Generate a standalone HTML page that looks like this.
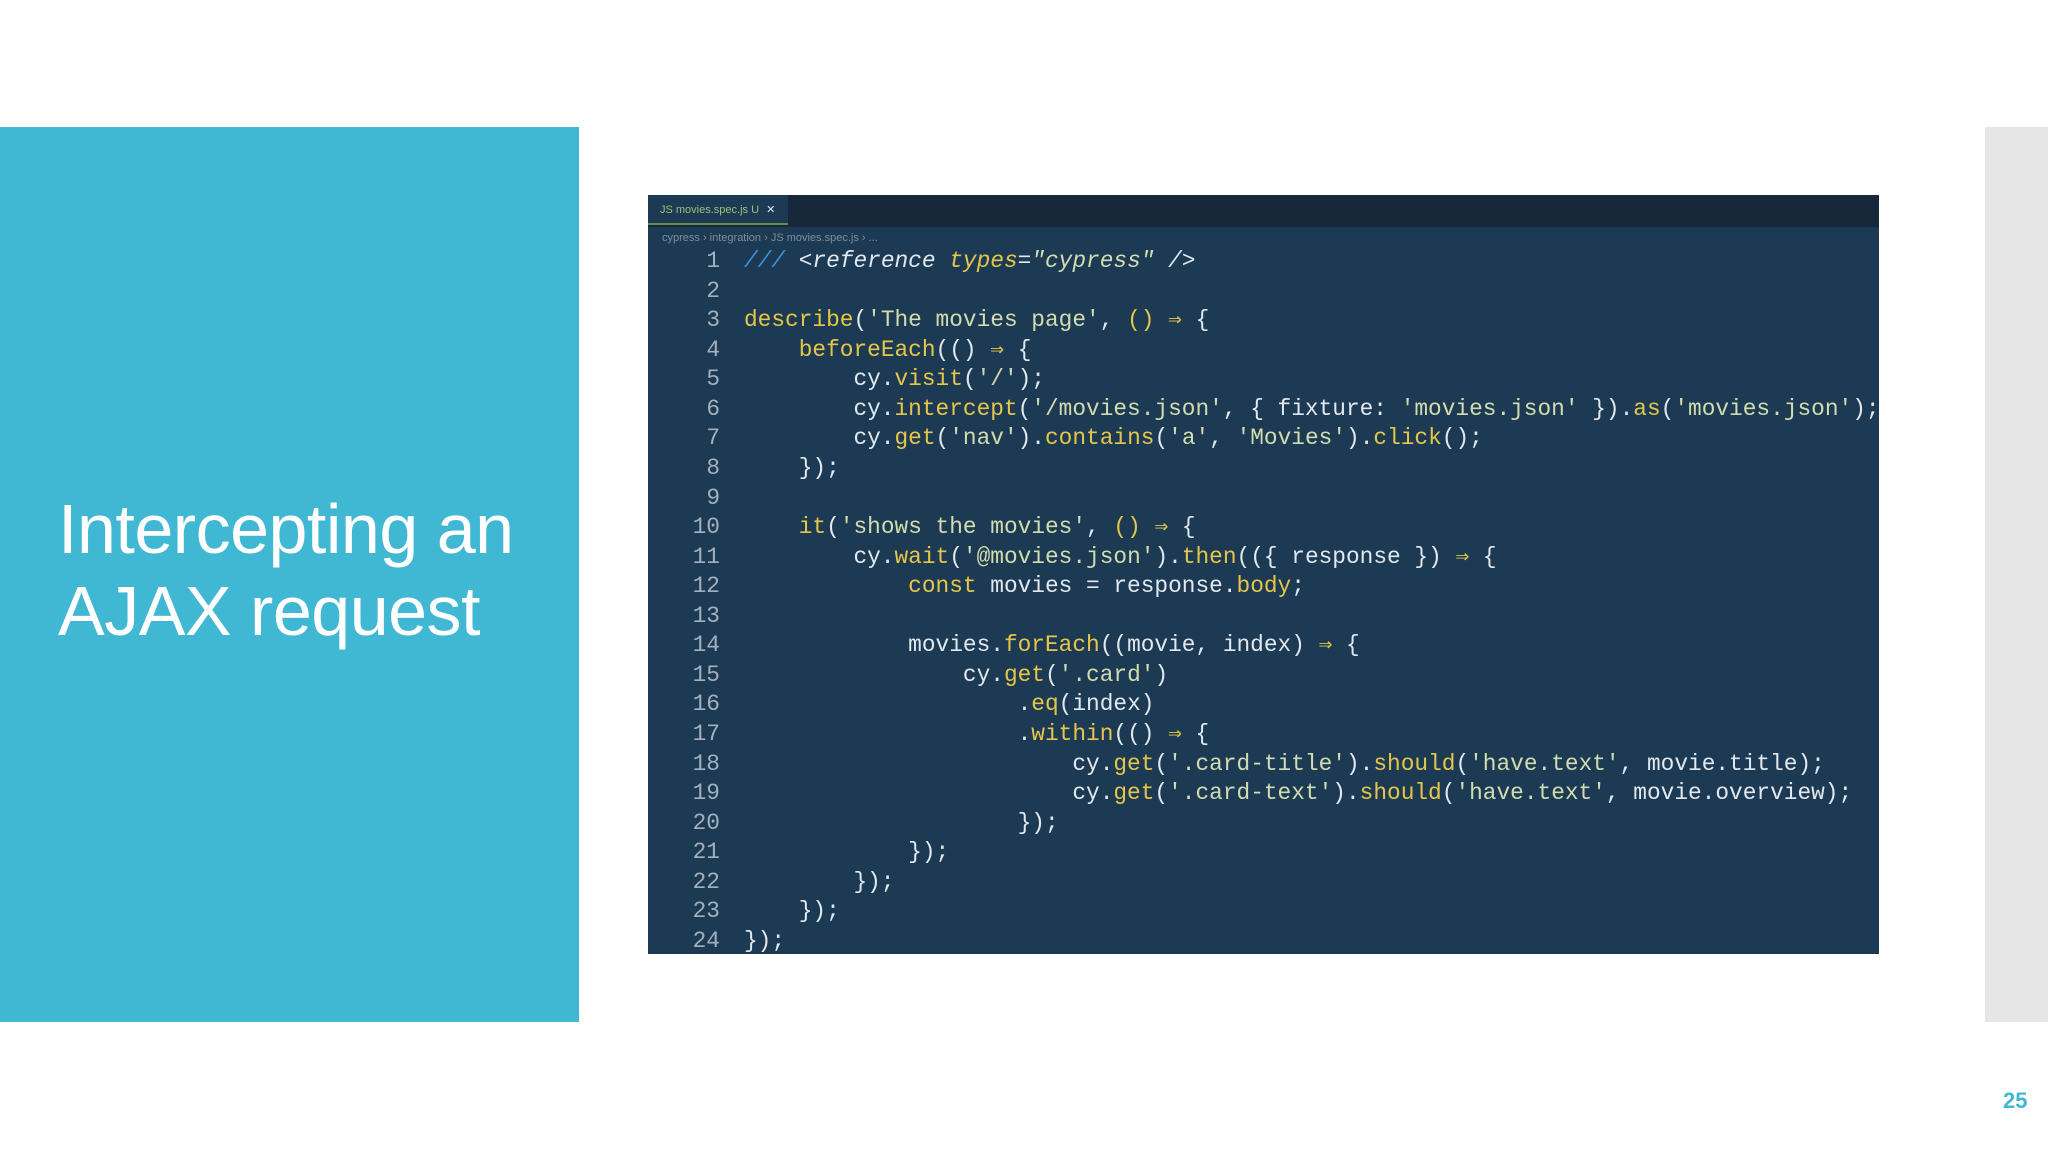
<!DOCTYPE html>
<html><head><meta charset="utf-8"><style>
html,body{margin:0;padding:0}
body{width:2048px;height:1152px;background:#fff;position:relative;overflow:hidden;font-family:"Liberation Sans",sans-serif}
.teal{position:absolute;left:0;top:127px;width:579px;height:895px;background:#41b8d3}
.title{position:absolute;left:58px;top:488px;color:#fff;font-size:70px;line-height:82px;letter-spacing:-0.5px}
.gray{position:absolute;left:1985px;top:127px;width:63px;height:895px;background:#e6e6e6}
.num{position:absolute;left:2003px;top:1088px;color:#41b8d3;font-size:22px;font-weight:bold}
.panel{position:absolute;left:648px;top:195px;width:1231px;height:759px;background:#1c3a53;overflow:hidden}
.tabbar{position:absolute;left:0;top:0;width:100%;height:32px;background:#16283a}
.tab{position:absolute;left:0;top:0;width:140px;height:30px;background:#1c3a53;border-bottom:2px solid #6a8a4a;color:#9bc27a;font-size:11px;line-height:30px;padding-left:12px;box-sizing:border-box;white-space:nowrap}
.tab b{color:#dfe5ea;font-weight:normal;margin-left:4px}
.crumb{position:absolute;left:14px;top:37px;color:#7d8e9f;font-size:11px;white-space:nowrap}
.code{position:absolute;left:0;top:52px;font-family:"Liberation Mono",monospace;font-size:22.8px;line-height:29.57px;color:#e2e8ee;white-space:pre}
.ln{display:inline-block;width:72px;text-align:right;color:#a4b0bc;margin-right:24px}
.k{color:#e6c64a}.s{color:#d2dcae}.c{color:#3f8fd8;font-style:italic}.i{font-style:italic}
</style></head><body>
<div class="teal"></div>
<div class="title">Intercepting an<br>AJAX request</div>
<div class="gray"></div>
<div class="num">25</div>
<div class="panel">
<div class="tabbar"><div class="tab">JS movies.spec.js U <b>✕</b></div></div>
<div class="crumb">cypress › integration › JS movies.spec.js › ...</div>
<div class="code"><span class="ln">1</span><span class="c">///</span> <span class="i">&lt;reference <span class="k">types</span>=<span class="s">"cypress"</span> /&gt;</span>
<span class="ln">2</span>
<span class="ln">3</span><span class="k">describe</span>(<span class="s">'The movies page'</span>, <span class="k">()</span> <span class="k">⇒</span> {
<span class="ln">4</span>    <span class="k">beforeEach</span>(() <span class="k">⇒</span> {
<span class="ln">5</span>        cy.<span class="k">visit</span>(<span class="s">'/'</span>);
<span class="ln">6</span>        cy.<span class="k">intercept</span>(<span class="s">'/movies.json'</span>, { fixture: <span class="s">'movies.json'</span> }).<span class="k">as</span>(<span class="s">'movies.json'</span>);
<span class="ln">7</span>        cy.<span class="k">get</span>(<span class="s">'nav'</span>).<span class="k">contains</span>(<span class="s">'a'</span>, <span class="s">'Movies'</span>).<span class="k">click</span>();
<span class="ln">8</span>    });
<span class="ln">9</span>
<span class="ln">10</span>    <span class="k">it</span>(<span class="s">'shows the movies'</span>, <span class="k">()</span> <span class="k">⇒</span> {
<span class="ln">11</span>        cy.<span class="k">wait</span>(<span class="s">'@movies.json'</span>).<span class="k">then</span>(({ response }) <span class="k">⇒</span> {
<span class="ln">12</span>            <span class="k">const</span> movies = response.<span class="k">body</span>;
<span class="ln">13</span>
<span class="ln">14</span>            movies.<span class="k">forEach</span>((movie, index) <span class="k">⇒</span> {
<span class="ln">15</span>                cy.<span class="k">get</span>(<span class="s">'.card'</span>)
<span class="ln">16</span>                    .<span class="k">eq</span>(index)
<span class="ln">17</span>                    .<span class="k">within</span>(() <span class="k">⇒</span> {
<span class="ln">18</span>                        cy.<span class="k">get</span>(<span class="s">'.card-title'</span>).<span class="k">should</span>(<span class="s">'have.text'</span>, movie.title);
<span class="ln">19</span>                        cy.<span class="k">get</span>(<span class="s">'.card-text'</span>).<span class="k">should</span>(<span class="s">'have.text'</span>, movie.overview);
<span class="ln">20</span>                    });
<span class="ln">21</span>            });
<span class="ln">22</span>        });
<span class="ln">23</span>    });
<span class="ln">24</span>});</div>
</div>
</body></html>
